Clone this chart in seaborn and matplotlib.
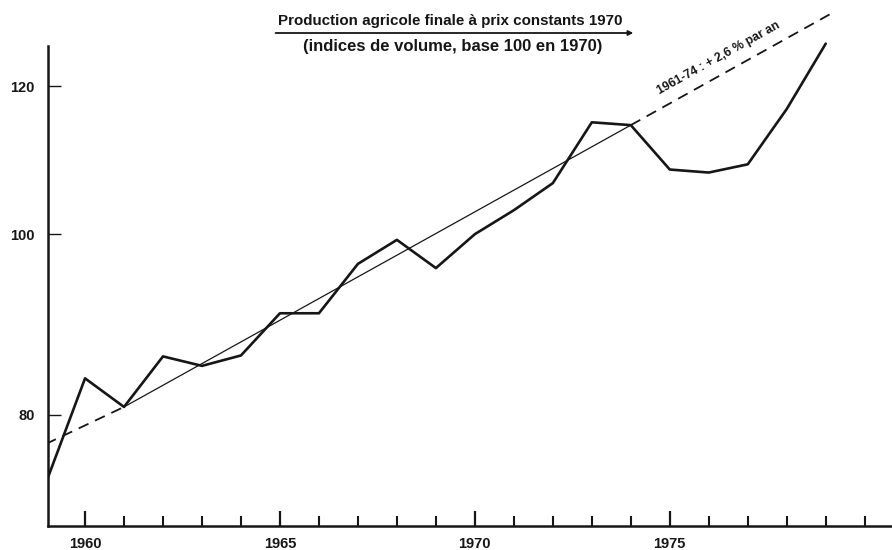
import pandas as pd
import seaborn as sns
import matplotlib.pyplot as plt
from matplotlib.ticker import FixedLocator, NullLocator, FixedFormatter

# Style
sns.set_theme(style="white")
plt.rcParams['font.family'] = ['Liberation Sans', 'DejaVu Sans']

# --- data (log scale) ---
years = list(range(1959, 1980))
production = [73.6, 83.7, 80.8, 86.0, 85.0, 86.1, 90.7, 90.7, 96.4, 99.3, 95.9,
              100.0, 103.0, 106.5, 114.8, 114.4, 108.3, 107.9, 109.0, 116.7, 126.5]

# trend 1961-74 (+2,6 % par an), solid part and dashed extensions
trend_years = [1961, 1974]
trend_values = [80.8, 114.4]
trend_low_years = [1959, 1961]
trend_low_values = [77.2, 80.8]
trend_high_years = [1974, 1979.2]
trend_high_values = [114.4, 131.5]

y_ticks = [80, 100, 120]
x_major = [1960, 1965, 1970, 1975]
x_minor = list(range(1960, 1981))

title = "Production agricole finale à prix constants 1970"
subtitle = "(indices de volume, base 100 en 1970)"
trend_label = "1961-74 : + 2,6 % par an"


def main():
    df = pd.DataFrame({"annee": years, "indice": production})
    ink = "#161616"

    fig = plt.figure(figsize=(8.92, 5.5), dpi=100)
    ax = fig.add_axes([48 / 892, 24 / 550, 1 - 48 / 892, 526 / 550])

    sns.lineplot(data=df, x="annee", y="indice", ax=ax, color=ink, lw=1.9)
    sns.lineplot(x=trend_years, y=trend_values, ax=ax, color=ink, lw=0.9)
    sns.lineplot(x=trend_low_years, y=trend_low_values, ax=ax, color=ink, lw=1.3,
                 linestyle=(0, (6, 4)))
    sns.lineplot(x=trend_high_years, y=trend_high_values, ax=ax, color=ink, lw=1.3,
                 linestyle=(0, (6, 4)))

    ax.set_yscale("log")
    ax.set_ylim(69.76, 133.5)
    ax.set_xlim(1959.05, 1980.7)

    ax.yaxis.set_major_locator(FixedLocator(y_ticks))
    ax.yaxis.set_major_formatter(FixedFormatter([str(v) for v in y_ticks]))
    ax.yaxis.set_minor_locator(NullLocator())
    ax.xaxis.set_major_locator(FixedLocator(x_major))
    ax.xaxis.set_major_formatter(FixedFormatter([str(v) for v in x_major]))
    ax.xaxis.set_minor_locator(FixedLocator(x_minor))

    ax.tick_params(axis="y", which="major", direction="in", length=9, width=1.0,
                   color=ink, pad=9.5, labelsize=10.5, left=True)
    ax.tick_params(axis="x", which="major", direction="in", length=11, width=1.6,
                   color=ink, pad=8, labelsize=10.5, bottom=True)
    ax.tick_params(axis="x", which="minor", direction="in", length=7, width=1.5,
                   color=ink, bottom=True)
    for lab in ax.get_xticklabels() + ax.get_yticklabels():
        lab.set_fontweight("bold")
        lab.set_color(ink)

    ax.set_xlabel("")
    ax.set_ylabel("")
    for side in ["top", "right"]:
        ax.spines[side].set_visible(False)
    for side in ["left", "bottom"]:
        ax.spines[side].set_linewidth(1.8)
        ax.spines[side].set_color(ink)
    ax.spines["left"].set_bounds(69.76, 126.2)

    ax.text(1976.25, 124.3, trend_label, rotation=29, rotation_mode="anchor",
            ha="center", va="center", fontsize=8.8, fontweight="bold", color=ink)

    fig.text(0.505, 0.961, title, ha="center", va="center", fontsize=10.9,
             fontweight="bold", color=ink)
    fig.text(0.507, 0.916, subtitle, ha="center", va="center", fontsize=12,
             fontweight="bold", color=ink)
    ax.annotate("", xy=(0.710, 0.940), xytext=(0.309, 0.940),
                xycoords="figure fraction", textcoords="figure fraction",
                arrowprops=dict(arrowstyle="-|>", lw=1.3, color=ink,
                                mutation_scale=7, shrinkA=0, shrinkB=0))

    fig.savefig("out.png", dpi=100)
    plt.close(fig)


if __name__ == "__main__":
    main()
